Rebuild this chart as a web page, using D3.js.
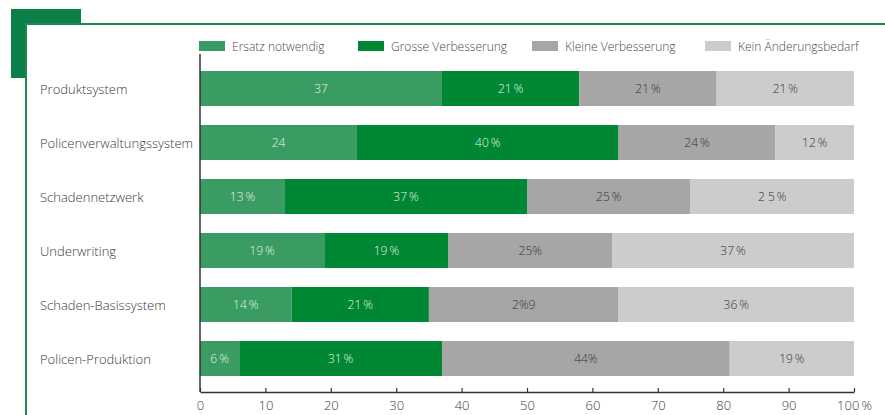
<!DOCTYPE html>
<html>
<head>
<meta charset="utf-8">
<script src="https://cdn.jsdelivr.net/npm/d3@7/dist/d3.min.js"></script>
<style>
  html, body { margin: 0; padding: 0; background: #fff; }
  svg { display: block; font-family: "Open Sans", "Noto Sans", sans-serif; }
</style>
</head>
<body>
<svg id="chart" width="885" height="415"></svg>
<script>
// Systems rated, top to bottom
const categories = [
  "Produktsystem",
  "Policenverwaltungssystem",
  "Schadennetzwerk",
  "Underwriting",
  "Schaden-Basissystem",
  "Policen-Produktion"
];

// Answer options (stack order, left to right)
const seriesNames = [
  "Ersatz notwendig",
  "Grosse Verbesserung",
  "Kleine Verbesserung",
  "Kein Änderungsbedarf"
];

// Share of answers in percent, one array per answer option
const ersatz  = [37, 24, 13, 19, 14, 6];
const gross   = [21, 40, 37, 19, 21, 31];
const klein   = [21, 24, 25, 25, 29, 44];
const keinBed = [21, 12, 25, 37, 36, 19];

// Printed segment labels, as they appear in the bars
const labelsErsatz  = ["37", "24", "13\u2009%", "19\u2009%", "14\u2009%", "6\u2009%"];
const labelsGross   = ["21\u2009%", "40\u2009%", "37\u2009%", "19\u2009%", "21\u2009%", "31\u2009%"];
const labelsKlein   = ["21\u2009%", "24\u2009%", "25\u2009%", "25%", "2%9", "44%"];
const labelsKein    = ["21\u2009%", "12\u2009%", "2 5\u2009%", "37\u2009%", "36\u2009%", "19\u2009%"];

// Axis ticks
const tickValues = [0, 10, 20, 30, 40, 50, 60, 70, 80, 90, 100];
const tickLabels = ["0", "10", "20", "30", "40", "50", "60", "70", "80", "90", "100\u2009%"];

const colors = ["#3a9c63", "#008733", "#a6a6a6", "#cccccc"];
const labelColors = ["#e6f2ea", "#e6f2ea", "#333333", "#333333"];

const values = [ersatz, gross, klein, keinBed];
const labels = [labelsErsatz, labelsGross, labelsKlein, labelsKein];

const rows = categories.map((c, i) => {
  const r = { category: c };
  seriesNames.forEach((s, k) => { r[s] = values[k][i]; });
  return r;
});

const stack = d3.stack().keys(seriesNames);
const stacked = stack(rows);

const svg = d3.select("#chart");

// Decorative frame
svg.append("rect").attr("x", 11).attr("y", 9).attr("width", 70).attr("height", 69).attr("fill", "#0a7f47");
svg.append("rect").attr("x", 26).attr("y", 24).attr("width", 900).attr("height", 420)
  .attr("fill", "#fff").attr("stroke", "#1c8a52").attr("stroke-width", 2);

const x = d3.scaleLinear().domain([0, 100]).range([200, 854]);
const y = d3.scaleBand().domain(categories).range([61.5, 385.5]).paddingInner(19 / 54).paddingOuter(19 / 108);

// Bars
const layer = svg.append("g").selectAll("g").data(stacked).join("g")
  .attr("fill", (d, k) => colors[k]);

layer.selectAll("rect").data(d => d).join("rect")
  .attr("x", d => x(d[0]))
  .attr("y", d => y(d.data.category))
  .attr("width", d => x(d[1]) - x(d[0]))
  .attr("height", y.bandwidth());

// Segment labels
svg.append("g").selectAll("g").data(stacked).join("g")
  .attr("fill", (d, k) => labelColors[k])
  .each(function (series, k) {
    d3.select(this).selectAll("text").data(series).join("text")
      .attr("x", d => (x(d[0]) + x(d[1])) / 2)
      .attr("y", d => y(d.data.category) + y.bandwidth() / 2)
      .attr("text-anchor", "middle")
      .attr("dominant-baseline", "central")
      .attr("font-size", 12)
      .attr("font-weight", 300)
      .text((d, i) => labels[k][i]);
  });

// Category labels
svg.append("g").selectAll("text").data(categories).join("text")
  .attr("x", 40)
  .attr("y", d => y(d) + y.bandwidth() / 2)
  .attr("dominant-baseline", "central")
  .attr("font-size", 13)
  .attr("font-weight", 300)
  .attr("fill", "#3a3a3a")
  .text(d => d);

// Axes
const axisY = 392;
svg.append("line").attr("x1", 200).attr("x2", 200).attr("y1", 54).attr("y2", axisY)
  .attr("stroke", "#333").attr("stroke-width", 1.5);

const xAxis = d3.axisTop(x).tickValues(tickValues).tickSize(4).tickSizeOuter(0)
  .tickFormat((d, i) => tickLabels[i]);
const gx = svg.append("g").attr("transform", `translate(0,${axisY})`).call(xAxis);
gx.select(".domain").attr("stroke", "#333").attr("stroke-width", 1.5);
gx.selectAll(".tick line").attr("stroke", "#333").attr("stroke-width", 1.2);
gx.selectAll(".tick text")
  .attr("y", 18)
  .attr("dy", 0)
  .attr("font-size", 13)
  .attr("font-weight", 300)
  .attr("font-family", "\"Open Sans\", sans-serif")
  .attr("fill", "#3a3a3a");

// Legend
const legendX = [199, 358, 532, 705];
const legend = svg.append("g").selectAll("g").data(seriesNames).join("g")
  .attr("transform", (d, i) => `translate(${legendX[i]},41)`);
legend.append("rect").attr("width", 26).attr("height", 10).attr("fill", (d, i) => colors[i]);
legend.append("text").attr("x", 33).attr("y", 5).attr("dominant-baseline", "central")
  .attr("font-size", 12).attr("font-weight", 300).attr("fill", "#4a4a4a").text(d => d);
</script>
</body>
</html>
